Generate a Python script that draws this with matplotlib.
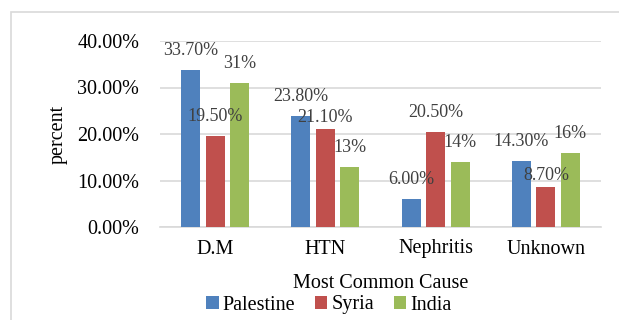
import matplotlib
matplotlib.use("Agg")
import matplotlib.pyplot as plt
import numpy as np
from matplotlib.patches import Rectangle

causes = ["D.M", "HTN", "Nephritis", "Unknown"]
countries = ["Palestine", "Syria", "India"]
palestine = [33.70, 23.80, 6.00, 14.30]
syria = [19.50, 21.10, 20.50, 8.70]
india = [31, 13, 14, 16]
value_labels = [
    ["33.70%", "23.80%", "6.00%", "14.30%"],
    ["19.50%", "21.10%", "20.50%", "8.70%"],
    ["31%", "13%", "14%", "16%"],
]
colors = ["#4F81BD", "#C0504D", "#9BBB59"]

plt.rcParams["font.family"] = ["Liberation Serif", "DejaVu Serif"]

fig = plt.figure(figsize=(6.19, 3.2), dpi=100)
# light frame around the chart area
fig.patches.append(Rectangle((11 / 619, -0.1), 1.2, 0.1 + 1 - 12 / 320,
                             transform=fig.transFigure, fill=False,
                             edgecolor="#D9D9D9", linewidth=1.2))

ax = fig.add_axes([160 / 619, 93 / 320, 441 / 619, 186 / 320])

x = np.arange(len(causes))
step = 0.223
width = 0.173
# Syria labels sit a little lower in the two crowded groups
nudge = [[0, 0, 0, 0], [0, -6, 0, -6], [0, 0, 0, 0]]

for k, series in enumerate([palestine, syria, india]):
    pos = x + (k - 1) * step
    ax.bar(pos, series, width, color=colors[k], label=countries[k], zorder=3)
    for j, v in enumerate(series):
        ax.annotate(value_labels[k][j], (pos[j], v),
                    xytext=(0, 14 + nudge[k][j]), textcoords="offset points",
                    ha="center", va="center", fontsize=13, color="#404040",
                    zorder=6)

ax.set_xlim(-0.5, 3.5)
ax.set_ylim(0, 40)
ax.set_yticks([0, 10, 20, 30, 40])
ax.set_yticklabels(["0.00%", "10.00%", "20.00%", "30.00%", "40.00%"])
ax.set_xticks(x)
ax.set_xticklabels(causes)
ax.tick_params(axis="both", length=0, labelsize=14.5, colors="black")
ax.tick_params(axis="y", pad=15)
ax.tick_params(axis="x", pad=9)
ax.grid(axis="y", color="#D9D9D9", linewidth=1.2, zorder=0)
for s in ["top", "right", "left"]:
    ax.spines[s].set_visible(False)
ax.spines["bottom"].set_color("#D9D9D9")
ax.spines["bottom"].set_linewidth(1.2)

ax.set_xlabel("Most Common Cause", fontsize=14.5)
ax.xaxis.set_label_coords(0.5, -0.255)
ax.set_ylabel("percent", fontsize=14.5)
ax.yaxis.set_label_coords(-0.21, 0.5)

fig.legend(loc="center", bbox_to_anchor=(329 / 619, 15 / 320), ncol=3,
           frameon=False, fontsize=14.5, handlelength=0.6, handleheight=0.6,
           handletextpad=0.2, columnspacing=1.0, borderpad=0)

fig.savefig("out.png", dpi=100)
plt.close(fig)
